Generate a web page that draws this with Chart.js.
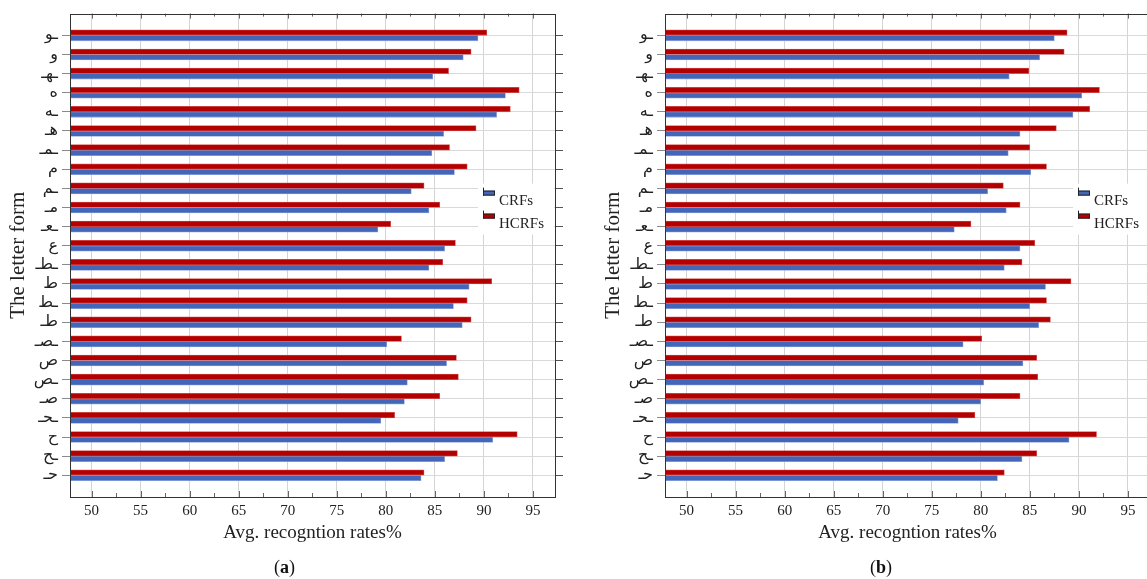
<!DOCTYPE html>
<html lang="en">
<head>
  <meta charset="UTF-8" />
  <title>Avg. recognition rates per letter form</title>
  <script src="https://cdn.jsdelivr.net/npm/chart.js"></script>
  <style>
    html, body { margin: 0; padding: 0; background: #fff; overflow: hidden; }
    #wrap { position: relative; width: 1147px; height: 579px; overflow: hidden; }
    .panel { position: absolute; top: 0; width: 595px; height: 579px; }
    .cap { position: absolute; top: 557px; font: 18px "Liberation Serif", serif; color: #111; }
  </style>
</head>
<body>
<div id="wrap">
  <div class="panel" style="left:0"><canvas id="chartA" width="595" height="579"></canvas></div>
  <div class="panel" style="left:595px"><canvas id="chartB" width="595" height="579"></canvas></div>
  <div class="cap" style="left:274px">(<b>a</b>)</div>
  <div class="cap" style="left:870px">(<b>b</b>)</div>
</div>

<script>
  // letter forms, top to bottom
  const letterForms = ['ـو', 'و', 'ـهـ', 'ه', 'ـه', 'هـ', 'ـمـ', 'م', 'ـم', 'مـ', 'ـعـ', 'ع',
                       'ـطـ', 'ط', 'ـط', 'طـ', 'ـصـ', 'ص', 'ـص', 'صـ', 'ـحـ', 'ح', 'ـح', 'حـ'];

  // panel (a)
  const crfsA  = [89.4, 87.9, 84.8, 92.2, 91.3, 85.9, 84.7, 87.0, 82.6, 84.4, 79.2, 86.0,
                  84.4, 88.5, 86.9, 87.8, 80.1, 86.2, 82.2, 81.9, 79.5, 90.9, 86.0, 83.6];
  const hcrfsA = [90.3, 88.7, 86.4, 93.6, 92.7, 89.2, 86.5, 88.3, 83.9, 85.5, 80.5, 87.1,
                  85.8, 90.8, 88.3, 88.7, 81.6, 87.2, 87.4, 85.5, 80.9, 93.4, 87.3, 83.9];

  // panel (b)
  const crfsB  = [87.5, 86.0, 82.9, 90.3, 89.4, 84.0, 82.8, 85.1, 80.7, 82.6, 77.3, 84.0,
                  82.4, 86.6, 85.0, 85.9, 78.2, 84.3, 80.3, 80.0, 77.7, 89.0, 84.2, 81.7];
  const hcrfsB = [88.8, 88.5, 84.9, 92.1, 91.1, 87.7, 85.0, 86.7, 82.3, 84.0, 79.0, 85.5,
                  84.2, 89.2, 86.7, 87.1, 80.1, 85.7, 85.8, 84.0, 79.4, 91.8, 85.7, 82.4];

  const xTicks = [50, 55, 60, 65, 70, 75, 80, 85, 90, 95];
  const xMinorTicks = [52.5, 57.5, 62.5, 67.5, 72.5, 77.5, 82.5, 87.5, 92.5];

  const BLUE = '#4366b8', BLUE_EDGE = '#8ea5dd';
  const RED = '#b30000', RED_EDGE = '#d45555';
  const serif = '"Liberation Serif", serif';
  const yPad = 1.136;

  // box, small x ticks and legend inside the plot
  const framePlugin = {
    id: 'frame',
    afterDatasetsDraw(chart) {
      const { ctx, chartArea: a } = chart;
      // legend
      ctx.save();
      ctx.fillStyle = '#fff';
      ctx.fillRect(a.left + 408, a.top + 170, a.right - a.left - 409, 51);
      const items = [['CRFs', BLUE], ['HCRFs', RED]];
      items.forEach(([txt, col], k) => {
        const sx = a.left + 413, sy = a.top + 177 + k * 23;
        ctx.fillStyle = col;
        ctx.fillRect(sx, sy, 12, 5);
        ctx.strokeStyle = '#222';
        ctx.lineWidth = 1;
        ctx.strokeRect(sx + 0.5, sy + 0.5, 11, 4);
        ctx.beginPath();
        ctx.moveTo(sx + 0.5, sy - 3);
        ctx.lineTo(sx + 0.5, sy + 5);
        ctx.stroke();
        ctx.fillStyle = '#222';
        ctx.font = '15px ' + serif;
        ctx.textBaseline = 'middle';
        ctx.fillText(txt, sx + 16, sy + 10);
      });
      ctx.restore();
    },
    afterDraw(chart) {
      const { ctx, chartArea: a, scales } = chart;
      ctx.save();
      ctx.strokeStyle = '#666';
      ctx.lineWidth = 1;
      ctx.beginPath();
      xTicks.forEach(v => {
        const px = Math.round(scales.x.getPixelForValue(v)) + 0.5;
        ctx.moveTo(px, a.top); ctx.lineTo(px, a.top + 5);
        ctx.moveTo(px, a.bottom); ctx.lineTo(px, a.bottom - 6);
      });
      xMinorTicks.forEach(v => {
        const px = Math.round(scales.x.getPixelForValue(v)) + 0.5;
        ctx.moveTo(px, a.top); ctx.lineTo(px, a.top + 3);
        ctx.moveTo(px, a.bottom); ctx.lineTo(px, a.bottom - 4);
      });
      ctx.stroke();
      ctx.strokeStyle = '#333';
      ctx.strokeRect(Math.round(a.left) + 0.5, Math.round(a.top) + 0.5,
                     Math.round(a.right - a.left), Math.round(a.bottom - a.top));
      ctx.restore();
    }
  };

  function yTicksBuild(scale) {
    scale.ticks = letterForms.map((_, i) => ({ value: i }));
  }

  function makeChart(id, crfs, hcrfs) {
    return new Chart(document.getElementById(id), {
      type: 'bar',
      data: {
        datasets: [
          {
            label: 'HCRFs',
            data: hcrfs.map((v, i) => ({ x: v, y: i })),
            backgroundColor: RED, borderColor: RED_EDGE, borderWidth: 0.8,
            barThickness: 5.5
          },
          {
            label: 'CRFs',
            data: crfs.map((v, i) => ({ x: v, y: i })),
            backgroundColor: BLUE, borderColor: BLUE_EDGE, borderWidth: 0.8,
            barThickness: 5.5
          }
        ]
      },
      options: {
        indexAxis: 'y',
        responsive: false,
        animation: false,
        layout: { padding: { top: 12, right: 30, bottom: 31, left: 0 } },
        plugins: { legend: { display: false }, tooltip: { enabled: false } },
        scales: {
          x: {
            type: 'linear', min: 47.8, max: 97.25,
            afterBuildTicks: s => { s.ticks = xTicks.map(v => ({ value: v })); },
            afterFit: s => { s.height = 51; },
            grid: { color: '#d4d4d4', drawTicks: false },
            border: { display: false },
            ticks: { padding: 5, color: '#222', font: { family: serif, size: 15 } },
            title: {
              display: true, text: 'Avg. recogntion rates%', color: '#222',
              font: { family: serif, size: 19 }, padding: { top: 0, bottom: 4 }
            }
          },
          y: {
            type: 'linear', reverse: true, offset: false,
            min: -yPad, max: letterForms.length - 1 + yPad,
            afterBuildTicks: yTicksBuild,
            afterFit: s => { s.width = 70; },
            grid: { offset: false, color: '#d9d9d9', tickColor: '#8a8a8a', tickLength: 8 },
            border: { display: false },
            ticks: {
              autoSkip: false, padding: 4, color: '#222',
              font: { family: '"DejaVu Sans", sans-serif', size: 16 },
              callback: v => letterForms[v]
            },
            title: {
              display: true, text: 'The letter form', color: '#222',
              font: { family: serif, size: 21 }, padding: { top: 6, bottom: 0 }
            }
          },
          y2: {
            type: 'linear', position: 'right', reverse: true, offset: false,
            min: -yPad, max: letterForms.length - 1 + yPad,
            afterBuildTicks: yTicksBuild,
            afterFit: s => { s.width = 10; },
            grid: { offset: false, drawOnChartArea: false, tickColor: '#555', tickLength: 8 },
            border: { display: false },
            ticks: { display: false }
          }
        }
      },
      plugins: [framePlugin]
    });
  }

  makeChart('chartA', crfsA, hcrfsA);
  makeChart('chartB', crfsB, hcrfsB);
</script>
</body>
</html>
